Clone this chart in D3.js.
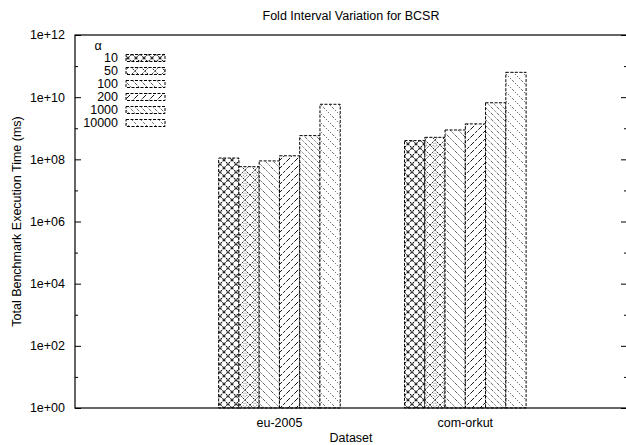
<!DOCTYPE html>
<html>
<head>
<meta charset="utf-8">
<script src="https://cdn.jsdelivr.net/npm/d3@7"></script>
<style>
  body { margin: 0; background: #fff; }
  text { font-family: "Liberation Sans", Arial, sans-serif; fill: #000; }
</style>
</head>
<body>
<div id="chart"></div>
<script>
// Data
const datasets = ['eu-2005', 'com-orkut'];
const alphas = ['10', '50', '100', '200', '1000', '10000'];
const times_eu2005 = [1.1e8, 5.8e7, 8.9e7, 1.3e8, 5.8e8, 5.9e9];
const times_comorkut = [4.0e8, 5.1e8, 8.8e8, 1.38e9, 6.6e9, 6.3e10];
const yTickValues = [1, 1e2, 1e4, 1e6, 1e8, 1e10, 1e12];
const yTickLabels = ['1e+00', '1e+02', '1e+04', '1e+06', '1e+08', '1e+10', '1e+12'];
const yMinorValues = [1e1, 1e3, 1e5, 1e7, 1e9, 1e11];

const seriesValues = [times_eu2005, times_comorkut];

const width = 626, height = 445;
const margin = { left: 75, top: 35, right: 627, bottom: 408 };
const fontSize = 12.5;

let svg = d3.select('#chart').append('svg')
    .attr('width', width)
    .attr('height', height);

svg.append('rect').attr('width', width).attr('height', height).attr('fill', '#fff');

// Fill patterns, roughly like the gnuplot ones
let defs = svg.append('defs');

function addPattern(id, size, draw) {
    let p = defs.append('pattern')
        .attr('id', id)
        .attr('patternUnits', 'userSpaceOnUse')
        .attr('width', size)
        .attr('height', size);
    p.append('rect').attr('width', size).attr('height', size).attr('fill', '#fff');
    draw(p, size);
}

// 10: crosshatch
addPattern('pat0', 8, (p, s) => {
    p.append('path').attr('d', `M0,0L${s},${s}M${s},0L0,${s}`)
        .attr('stroke', '#111').attr('stroke-width', 1.1).attr('stroke-dasharray', '2,1');
});
// 50: dense crosshatch with little rings
addPattern('pat1', 10, (p, s) => {
    p.append('path').attr('d', `M0,${s/2}L${s/2},0L${s},${s/2}L${s/2},${s}Z`)
        .attr('fill', 'none').attr('stroke', '#222').attr('stroke-width', 1).attr('stroke-dasharray', '1.5,1');
    p.append('circle').attr('cx', s/2).attr('cy', s/2).attr('r', 1.8)
        .attr('fill', 'none').attr('stroke', '#555').attr('stroke-width', 0.8).attr('stroke-dasharray', '1,1');
});
// 100: backslash lines
addPattern('pat2', 8, (p, s) => {
    p.append('path').attr('d', `M0,0L${s},${s}M${-s},0L${s},${2*s}M0,${-s}L${2*s},${s}`)
        .attr('stroke', '#444').attr('stroke-width', 0.9).attr('stroke-dasharray', '1.5,1');
});
// 200: forward slash lines
addPattern('pat3', 8, (p, s) => {
    p.append('path').attr('d', `M0,${s}L${s},0M${-s},${s}L${s},${-s}M0,${2*s}L${2*s},0`)
        .attr('stroke', '#111').attr('stroke-width', 1).attr('stroke-dasharray', '3,1.5');
});
// 1000: dotted backslash, steep
addPattern('pat4', 6, (p, s) => {
    p.append('path').attr('d', `M0,0L${s},${s}M${-s},0L${s},${2*s}M0,${-s}L${2*s},${s}`)
        .attr('stroke', '#333').attr('stroke-width', 1).attr('stroke-dasharray', '1,1.5');
});
// 10000: dotted backslash, sparse
addPattern('pat5', 9, (p, s) => {
    p.append('path').attr('d', `M0,0L${s},${s}M${-s},0L${s},${2*s}M0,${-s}L${2*s},${s}`)
        .attr('stroke', '#333').attr('stroke-width', 1).attr('stroke-dasharray', '1,1.8');
});

// Scales
let xScale = d3.scaleLinear()
    .domain([-1.1, 1.87])
    .range([margin.left, margin.right]);

let yScale = d3.scaleLog()
    .domain([1, 1e12])
    .range([margin.bottom, margin.top]);

const barWidth = 0.109;

// Bars
let groups = svg.append('g').attr('id', 'bars')
    .selectAll('g')
    .data(datasets)
    .enter()
    .append('g');

groups.selectAll('rect')
    .data((d, gi) => seriesValues[gi].map((v, i) => ({ gi: gi, i: i, v: v })))
    .enter()
    .append('rect')
    .attr('x', d => xScale(d.gi + (d.i - alphas.length / 2) * barWidth))
    .attr('y', d => yScale(d.v))
    .attr('width', d => xScale(barWidth) - xScale(0))
    .attr('height', d => margin.bottom - yScale(d.v))
    .attr('fill', d => `url(#pat${d.i})`)
    .attr('stroke', '#000')
    .attr('stroke-width', 1)
    .attr('stroke-dasharray', '3,1.5');

// Frame
svg.append('rect')
    .attr('x', margin.left)
    .attr('y', margin.top)
    .attr('width', margin.right - margin.left)
    .attr('height', margin.bottom - margin.top)
    .attr('fill', 'none')
    .attr('stroke', '#000')
    .attr('stroke-width', 1.2);

// Y axis ticks, inward on both sides
svg.append('g').attr('transform', `translate(${margin.left},0)`)
    .call(d3.axisRight(yScale).tickValues(yTickValues).tickSize(6).tickFormat(''))
    .call(g => g.select('.domain').remove());
svg.append('g').attr('transform', `translate(${margin.left},0)`)
    .call(d3.axisRight(yScale).tickValues(yMinorValues).tickSize(3).tickFormat(''))
    .call(g => g.select('.domain').remove());
svg.append('g').attr('transform', `translate(${margin.right},0)`)
    .call(d3.axisLeft(yScale).tickValues(yTickValues).tickSize(6).tickFormat(''))
    .call(g => g.select('.domain').remove());
svg.append('g').attr('transform', `translate(${margin.right},0)`)
    .call(d3.axisLeft(yScale).tickValues(yMinorValues).tickSize(3).tickFormat(''))
    .call(g => g.select('.domain').remove());

// Y tick labels
svg.append('g').selectAll('text')
    .data(yTickValues)
    .enter()
    .append('text')
    .attr('x', margin.left - 10)
    .attr('y', d => yScale(d))
    .attr('dy', '0.35em')
    .attr('text-anchor', 'end')
    .attr('font-size', fontSize)
    .text((d, i) => yTickLabels[i]);

// X category labels
svg.append('g').selectAll('text')
    .data(datasets)
    .enter()
    .append('text')
    .attr('x', (d, i) => xScale(i))
    .attr('y', margin.bottom + 19)
    .attr('text-anchor', 'middle')
    .attr('font-size', fontSize)
    .text(d => d);

// Titles
svg.append('text')
    .attr('x', (margin.left + margin.right) / 2)
    .attr('y', 20)
    .attr('text-anchor', 'middle')
    .attr('font-size', fontSize)
    .text('Fold Interval Variation for BCSR');

svg.append('text')
    .attr('x', (margin.left + margin.right) / 2)
    .attr('y', 442)
    .attr('text-anchor', 'middle')
    .attr('font-size', fontSize)
    .text('Dataset');

svg.append('text')
    .attr('transform', `translate(21,${(margin.top + margin.bottom) / 2}) rotate(-90)`)
    .attr('text-anchor', 'middle')
    .attr('font-size', fontSize)
    .text('Total Benchmark Execution Time (ms)');

// Legend
let legend = svg.append('g').attr('id', 'legend');
legend.append('text')
    .attr('x', 98)
    .attr('y', 46)
    .attr('dy', '0.35em')
    .attr('text-anchor', 'middle')
    .attr('font-size', fontSize)
    .text('α');

let items = legend.selectAll('g.item')
    .data(alphas)
    .enter()
    .append('g')
    .attr('class', 'item')
    .attr('transform', (d, i) => `translate(0,${58 + i * 13})`);

items.append('text')
    .attr('x', 118)
    .attr('y', 0)
    .attr('dy', '0.35em')
    .attr('text-anchor', 'end')
    .attr('font-size', fontSize)
    .text(d => d);

items.append('rect')
    .attr('x', 126)
    .attr('y', -3.5)
    .attr('width', 39)
    .attr('height', 7)
    .attr('fill', (d, i) => `url(#pat${i})`)
    .attr('stroke', '#000')
    .attr('stroke-width', 1)
    .attr('stroke-dasharray', '3,1.5');
</script>
</body>
</html>
